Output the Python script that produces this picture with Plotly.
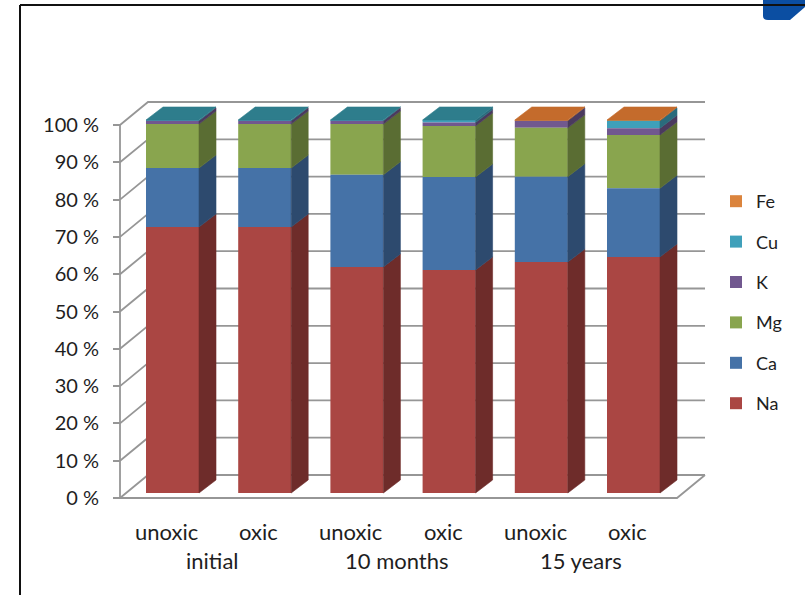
import plotly.graph_objects as go

# ---- data -------------------------------------------------------------
conditions = ["unoxic", "oxic", "unoxic", "oxic", "unoxic", "oxic"]
periods = ["initial", "10 months", "15 years"]
tick_values = [0, 10, 20, 30, 40, 50, 60, 70, 80, 90, 100]
tick_labels = [f"{v} %" for v in tick_values]

elements = ["Na", "Ca", "Mg", "K", "Cu", "Fe"]
na = [71.3, 71.3, 60.6, 59.8, 61.9, 63.3]
ca = [15.8, 15.8, 24.7, 24.9, 22.9, 18.4]
mg = [11.8, 11.8, 13.6, 13.7, 13.1, 14.3]
k = [0.9, 0.9, 0.9, 0.9, 1.9, 1.8]
cu = [0.2, 0.2, 0.2, 0.7, 0.0, 2.0]
fe = [0.0, 0.0, 0.0, 0.0, 0.2, 0.2]
series = [na, ca, mg, k, cu, fe]

# ---- styling ----------------------------------------------------------
front_colors = ["#AA4643", "#4572A7", "#89A54E", "#71588F", "#3FA0BA", "#DB843D"]
side_colors = ["#6E2C2A", "#2D4A6E", "#5A6D33", "#4A3A5E", "#2A6B7C", "#9A5B28"]
top_colors = ["#8E3A37", "#3A6190", "#738C42", "#5F4A7A", "#2E7D8C", "#C46B2C"]
FONT = "Lato"
TEXT = "#1e1e1e"
GRID = "#969696"

W, H = 805, 595
ML = 100                      # left margin (px)
X0, SX = 166.5, 92.2          # front-plane pixel of category 0, px per category
Y0, SY = 498.0, 3.73          # pixel of 0 %, px per percent


def to_x(px):
    return (px - X0) / SX


def dx(px):
    return px / SX


def dy(px):
    return px / SY


def paper_x(px):
    return (px - ML) / (W - ML)


def paper_y(py):
    return 1 - py / H


# oblique 3-D projection offsets (data units)
WALL_DX, WALL_DY = dx(28), dy(23)     # front plane -> back wall
BAR_OX, BAR_OY = dx(6), dy(5)         # front plane -> bar front face
BAR_DX, BAR_DY = dx(17), dy(13)       # bar depth
BAR_W = dx(53)
AXIS_X = to_x(120)
BACK_RIGHT_X = to_x(705)

shapes = []


def grid_line(points):
    path = "M " + " L ".join(f"{x},{y}" for x, y in points)
    shapes.append(dict(type="path", xref="x", yref="y", path=path, layer="below",
                       line=dict(color=GRID, width=1.8)))


# ---- walls: left-wall diagonals + back-wall gridlines -------------------
for v in tick_values:
    grid_line([(AXIS_X, v), (AXIS_X + WALL_DX, v + WALL_DY), (BACK_RIGHT_X, v + WALL_DY)])
# floor front and right edges
grid_line([(AXIS_X, 0), (BACK_RIGHT_X - WALL_DX, 0), (BACK_RIGHT_X, WALL_DY)])
# vertical axis line
grid_line([(AXIS_X, 0), (AXIS_X, 100)])

fig = go.Figure()

# ---- bars: front faces --------------------------------------------------
n = len(conditions)
cum = [[0.0] * n]
for s in series:
    cum.append([c + v for c, v in zip(cum[-1], s)])

# added top series first so the legend lists Fe ... Na
for j in reversed(range(len(series))):
    s = series[j]
    fig.add_trace(go.Bar(
        x=[i + BAR_OX for i in range(n)], y=s,
        base=[BAR_OY + b for b in cum[j]],
        width=BAR_W, name=elements[j], legendgroup=elements[j],
        marker=dict(color=front_colors[j], line=dict(width=0)),
        opacity=1, hoverinfo="skip",
    ))

# ---- bars: side faces and top face --------------------------------------
for j, s in enumerate(series):
    sx, sy = [], []
    for i in range(n):
        if s[i] <= 0:
            continue
        xr = i + BAR_OX + BAR_W / 2
        b = BAR_OY + cum[j][i]
        t = BAR_OY + cum[j + 1][i]
        sx += [xr, xr + BAR_DX, xr + BAR_DX, xr, xr, None]
        sy += [b, b + BAR_DY, t + BAR_DY, t, b, None]
    if sx:
        fig.add_trace(go.Scatter(x=sx, y=sy, mode="lines", fill="toself",
                                 fillcolor=side_colors[j],
                                 line=dict(color=side_colors[j], width=0.6),
                                 hoverinfo="skip", showlegend=False))

for i in range(n):
    top_j = max(j for j, s in enumerate(series) if s[i] > 0)
    xl = i + BAR_OX - BAR_W / 2
    xr = i + BAR_OX + BAR_W / 2
    t = BAR_OY + cum[top_j + 1][i]
    fig.add_trace(go.Scatter(
        x=[xl, xr, xr + BAR_DX, xl + BAR_DX, xl],
        y=[t, t, t + BAR_DY, t + BAR_DY, t],
        mode="lines", fill="toself", fillcolor=top_colors[top_j],
        line=dict(color=top_colors[top_j], width=0.6),
        hoverinfo="skip", showlegend=False))

# ---- category labels -------------------------------------------------------
annotations = []
for i, c in enumerate(conditions):
    annotations.append(dict(x=i, y=dy(Y0 - 531), xref="x", yref="y", text=c,
                            showarrow=False, font=dict(family=FONT, size=22, color=TEXT)))
for g, p in enumerate(periods):
    annotations.append(dict(x=2 * g + 0.5, y=dy(Y0 - 560), xref="x", yref="y", text=p,
                            showarrow=False, font=dict(family=FONT, size=22, color=TEXT)))

# ---- frame decoration ----------------------------------------------------
shapes += [
    dict(type="path", xref="paper", yref="paper",
         path=(f"M {paper_x(763)},{paper_y(0)} L {paper_x(763)},{paper_y(16)} "
               f"Q {paper_x(763)},{paper_y(20)} {paper_x(768)},{paper_y(20)} "
               f"L {paper_x(790)},{paper_y(20)} L {paper_x(805)},{paper_y(7)} "
               f"L {paper_x(805)},{paper_y(0)} Z"),
         fillcolor="#0B4EA2", line=dict(width=0)),
    dict(type="line", xref="paper", yref="paper", x0=paper_x(20), x1=paper_x(805),
         y0=paper_y(5), y1=paper_y(5), line=dict(color="#111111", width=2)),
    dict(type="line", xref="paper", yref="paper", x0=paper_x(20), x1=paper_x(20),
         y0=paper_y(5), y1=paper_y(595), line=dict(color="#111111", width=2)),
]

fig.update_layout(
    width=W, height=H,
    margin=dict(l=ML, r=0, t=0, b=0),
    paper_bgcolor="white", plot_bgcolor="white",
    barmode="overlay",
    showlegend=True,
    legend=dict(x=paper_x(716), y=paper_y(183), xanchor="left", yanchor="top",
                traceorder="grouped", tracegroupgap=14,
                font=dict(family=FONT, size=18, color=TEXT),
                bgcolor="rgba(0,0,0,0)"),
    xaxis=dict(range=[to_x(ML), to_x(W)], visible=False, fixedrange=True),
    yaxis=dict(range=[-dy(H - Y0), dy(Y0)], anchor="free", position=paper_x(120),
               tickvals=tick_values, ticktext=tick_labels, ticks="outside", ticklen=7,
               tickcolor=GRID, tickwidth=1.8, showgrid=False, zeroline=False,
               showline=False, ticklabelstandoff=10,
               tickfont=dict(family=FONT, size=20, color=TEXT), fixedrange=True),
    annotations=annotations,
    shapes=shapes,
)

fig.write_html("out.html")
